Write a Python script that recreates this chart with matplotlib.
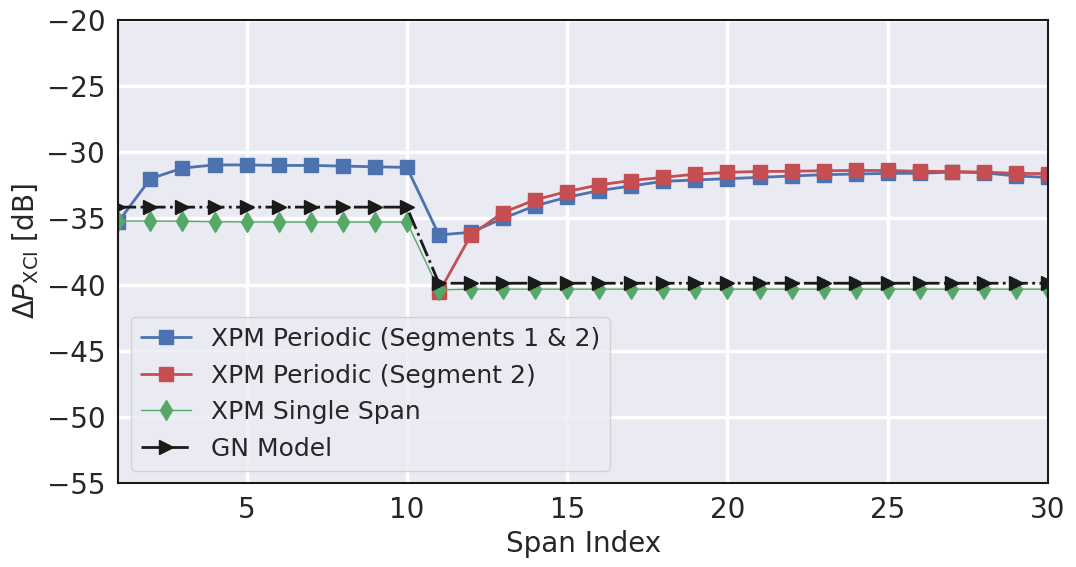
import matplotlib
matplotlib.use("Agg")
import matplotlib.pyplot as plt
import seaborn as sns
import numpy as np

spans = list(range(1, 31))
blue = [-35.25, -32.0, -31.2, -30.96, -30.96, -31.0, -31.0, -31.05, -31.1, -31.15,
        -36.25, -36.05, -35.0, -34.05, -33.4, -32.9, -32.55, -32.2, -32.1, -32.0,
        -31.9, -31.8, -31.7, -31.65, -31.6, -31.6, -31.5, -31.55, -31.8, -31.9]
red_x = list(range(11, 31))
red = [-40.6, -36.25, -34.56, -33.6, -32.97, -32.47, -32.14, -31.9, -31.66, -31.52,
       -31.46, -31.44, -31.4, -31.38, -31.38, -31.44, -31.46, -31.5, -31.6, -31.62]
green = [-35.2, -35.2, -35.22, -35.25, -35.27, -35.28, -35.28, -35.28, -35.28, -35.28,
         -40.4, -40.35, -40.35, -40.35, -40.35, -40.35, -40.35, -40.35, -40.35, -40.35,
         -40.35, -40.35, -40.35, -40.35, -40.35, -40.35, -40.35, -40.35, -40.35, -40.35]
gn = [-34.15] * 10 + [-39.9] * 20

sns.set_theme(style="darkgrid", font_scale=1.6)
plt.rcParams['font.family'] = ['DejaVu Sans']

fig, ax = plt.subplots(figsize=(10.76, 5.67), dpi=100)
ax.plot(spans, blue, color='#4c72b0', marker='s', markersize=10, linewidth=2,
        label='XPM Periodic (Segments 1 & 2)')
ax.plot(red_x, red, color='#c44e52', marker='s', markersize=10, linewidth=2,
        label='XPM Periodic (Segment 2)')
ax.plot(spans, green, color='#55a868', marker='d', markersize=10, linewidth=1,
        label='XPM Single Span')
ax.plot(spans, gn, color='#1a1a1a', marker='>', markersize=10, linewidth=2,
        linestyle='-.', label='GN Model')

ax.set_xlim(1, 30)
ax.set_ylim(-55, -20)
ax.set_xticks([5, 10, 15, 20, 25, 30])
ax.set_yticks(np.arange(-55, -19, 5))
ax.grid(True, color='white', linewidth=2.5)
for s in ax.spines.values():
    s.set_visible(True)
    s.set_color('#1a1a1a')
    s.set_linewidth(1.5)
ax.tick_params(labelsize=20)
ax.set_xlabel('Span Index', fontsize=20)
ax.set_ylabel(r'$\Delta P_{\mathrm{XCI}}$ [dB]', fontsize=20)
ax.legend(loc='lower left', fontsize=18, frameon=True)
fig.subplots_adjust(left=0.11, right=0.974, top=0.965, bottom=0.148)
fig.savefig('out.png', dpi=100)
